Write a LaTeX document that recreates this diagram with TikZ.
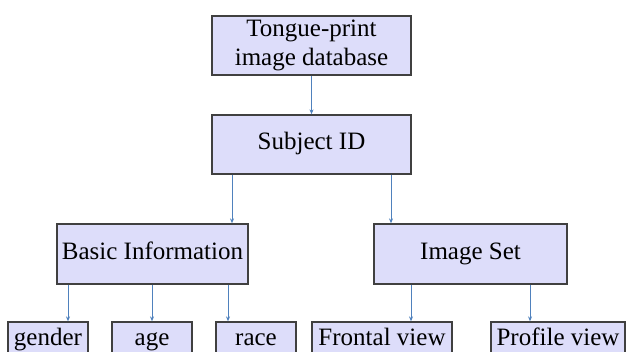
\documentclass[tikz,border=0pt]{standalone}
\usepackage{fontspec}
\setmainfont{Liberation Serif}
\usetikzlibrary{arrows.meta}
\definecolor{boxfill}{RGB}{221,221,250}
\definecolor{boxline}{RGB}{64,64,64}
\definecolor{arrowblue}{RGB}{79,129,189}
\begin{document}
\begin{tikzpicture}[x=1pt,y=-1pt,
  box/.style={draw=boxline, line width=1.3pt, fill=boxfill, inner sep=0pt,
    font=\fontsize{25}{29}\selectfont, align=center},
  one/.style={text height=16pt, text depth=5pt},
  arr/.style={draw=arrowblue, line width=0.9pt, -{Stealth[length=5pt,width=4pt]}}]
\useasboundingbox (0,0) rectangle (628,352);
\clip (0,0) rectangle (628,352);
\fill[white] (0,0) rectangle (628,352);
\node[box, minimum width=199pt, minimum height=59pt] (top) at (311.5,45.5) {Tongue-print\\image database};
\node[box, one, minimum width=199pt, minimum height=59pt] (subj) at (311.5,144.5) {Subject ID};
\node[box, one, minimum width=191pt, minimum height=60pt] (basic) at (152.5,254) {Basic Information};
\node[box, one, minimum width=193pt, minimum height=60pt] (imgset) at (470.5,254) {Image Set};
\node[box, one, minimum width=80pt, minimum height=35pt] (gender) at (48,339.5) {gender};
\node[box, one, minimum width=80pt, minimum height=35pt] (age) at (152,339.5) {age};
\node[box, one, minimum width=80pt, minimum height=35pt] (race) at (256,339.5) {race};
\node[box, one, minimum width=140pt, minimum height=35pt] (frontal) at (382,339.5) {Frontal view};
\node[box, one, minimum width=134pt, minimum height=35pt] (profile) at (558,339.5) {Profile view};
\draw[arr] (top.south) -- (subj.north);
\draw[arr] ([xshift=-79.5pt]subj.south) -- ([xshift=-79.5pt]subj.south |- basic.north);
\draw[arr] ([xshift=79.5pt]subj.south) -- ([xshift=79.5pt]subj.south |- imgset.north);
\draw[arr] ([xshift=20pt]gender.north |- basic.south) -- ([xshift=20pt]gender.north);
\draw[arr] (age.north |- basic.south) -- (age.north);
\draw[arr] ([xshift=-28pt]race.north |- basic.south) -- ([xshift=-28pt]race.north);
\draw[arr] ([xshift=29pt]frontal.north |- imgset.south) -- ([xshift=29pt]frontal.north);
\draw[arr] ([xshift=-28pt]profile.north |- imgset.south) -- ([xshift=-28pt]profile.north);
\end{tikzpicture}
\end{document}
